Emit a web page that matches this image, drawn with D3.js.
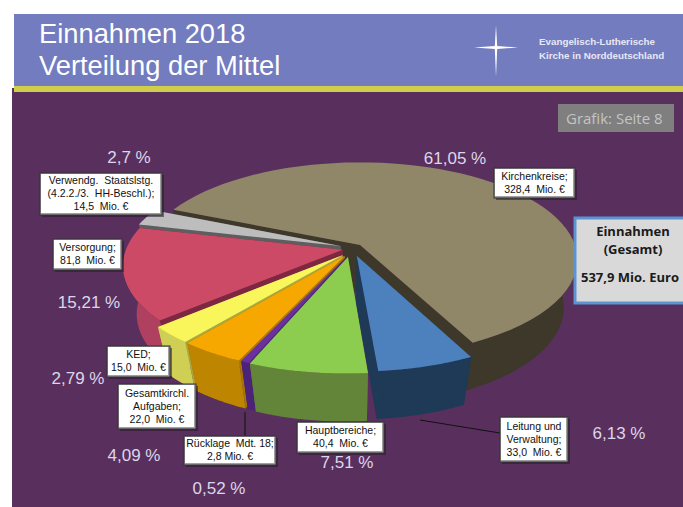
<!DOCTYPE html>
<html>
<head>
<meta charset="utf-8">
<script src="https://cdn.jsdelivr.net/npm/d3@7"></script>
<style>
  html, body { margin: 0; background: #fff; overflow: hidden; }
  svg { display: block; }
  text { font-family: "Liberation Sans", Arial, sans-serif; white-space: pre; }
  text.calibri { font-family: "Open Sans", sans-serif; }
</style>
</head>
<body>
<div id="chart"></div>
<script>
// Einnahmen 2018, Mio. Euro, clockwise starting with Kirchenkreise
const categories = ["Kirchenkreise", "Leitung und Verwaltung", "Hauptbereiche", "Ruecklage", "Gesamtkirchl. Aufgaben", "KED", "Versorgung", "Verwendg. Staatslstg."];
const amounts = [328.4, 33.0, 40.4, 2.8, 22.0, 15.0, 81.8, 14.5];
const percentLabels = ["61,05 %", "6,13 %", "7,51 %", "0,52 %", "4,09 %", "2,79 %", "15,21 %", "2,7 %"];
const boxLabels = [
  ["Kirchenkreise;", "328,4  Mio. €"],
  ["Leitung und", "Verwaltung;", "33,0  Mio. €"],
  ["Hauptbereiche;", "40,4  Mio. €"],
  ["Rücklage  Mdt. 18;", "2,8 Mio. €"],
  ["Gesamtkirchl.", "Aufgaben;", "22,0  Mio. €"],
  ["KED;", "15,0  Mio. €"],
  ["Versorgung;", "81,8  Mio. €"],
  ["Verwendg.  Staatslstg.", "(4.2.2./3.  HH-Beschl.);", "14,5  Mio. €"]
];

// colours and layout, same order as the categories
const topColors = ["#8f8767", "#4d81bd", "#8ccd4f", "#6c2f9e", "#f7a800", "#f9f65c", "#cd4a66", "#bdbdbd"];
const sideColors = ["#3d3829", "#1f3a57", "#62853a", "#4b2378", "#bd8500", "#cfcf55", "#b04060", "#5e5e5e"];
const cutColors = ["#3d3829", "#1f3a57", "#4f6c2b", "#4b2378", "#a87400", "#a9a83e", "#7d2740", "#5e5e5e"];
const percentPos = [[455, 158], [619, 433], [347, 462], [219, 488], [134, 455], [78, 378], [89, 302], [129, 157]];
const boxRects = [[494, 168, 81, 30], [500, 417, 68, 45], [297, 422, 87, 31], [184, 436, 92, 29], [118, 384, 78, 45], [107, 346, 63, 31], [53, 239, 69, 31], [40, 173, 122, 42]];
const explode = [[0, 0], [-0.015, 0.11], [-0.055, 0.125], [-0.06, 0.12], [-0.07, 0.115], [-0.08, 0.105], [-0.08, 0.05], [-0.09, 0.01]];

const width = 683, height = 507;
const svg = d3.select("#chart").append("svg").attr("width", width).attr("height", height);

// header
svg.append("rect").attr("x", 14).attr("y", 14).attr("width", 669).attr("height", 73).attr("fill", "#727cbf");
svg.append("rect").attr("x", 12).attr("y", 88).attr("width", 671).attr("height", 419).attr("fill", "#59305d");
svg.append("rect").attr("x", 14).attr("y", 86).attr("width", 669).attr("height", 6).attr("fill", "#cfcd4a");
svg.append("text").attr("x", 39).attr("y", 43).attr("font-size", 27.3).attr("fill", "#fff").text("Einnahmen 2018");
svg.append("text").attr("x", 39).attr("y", 75).attr("font-size", 27.3).attr("fill", "#fff").text("Verteilung der Mittel");
svg.append("path").attr("d", "M496,25L497.2,46L518,47.5L497.2,49L496,77L494.8,49L474,47.5L494.8,46Z").attr("fill", "#fff");
svg.append("text").attr("x", 539).attr("y", 45).attr("font-size", 9.8).attr("font-weight", "bold").attr("fill", "#e8e8f5").text("Evangelisch-Lutherische");
svg.append("text").attr("x", 539).attr("y", 59).attr("font-size", 9.8).attr("font-weight", "bold").attr("fill", "#e8e8f5").text("Kirche in Norddeutschland");
svg.append("rect").attr("x", 558).attr("y", 104).attr("width", 116).attr("height", 28).attr("fill", "#7f7f7f");
svg.append("text").attr("class", "calibri").attr("x", 566).attr("y", 124).attr("font-size", 15).attr("fill", "#c4c4c4").text("Grafik: Seite 8");

// pie, first slice starts at -66.8 deg
const start = -66.8 * Math.PI / 180;
const pie = d3.pie().sort(null).startAngle(start).endAngle(start + 2 * Math.PI);
const slices = pie(amounts);
const cx = 360, cy = 245, rx = 215, ry = 95, depth = 48, persp = 0.15, shrink = 0.94, midX = 350;

// point of the exploded slice on the table plane, seen with perspective
function project(a, r, off) {
  const X = Math.sin(a) * r + off[0], Y = -Math.cos(a) * r + off[1];
  const f = 1 / (1 - persp * Y);
  return [cx + rx * X * f, cy + ry * Y * f];
}
// same point on the underside, which looks a bit narrower
function down(p) {
  return [midX + (p[0] - midX) * shrink, p[1] + depth];
}
const line = d3.line();
function rimAngles(d) {
  return d3.range(0, 61).map(i => d.startAngle + (d.endAngle - d.startAngle) * i / 60);
}
function topPath(d, i) {
  const rim = rimAngles(d).map(a => project(a, 1, explode[i]));
  return line([project(0, 0, explode[i]), ...rim]) + "Z";
}
function rimWall(d, i) {
  const rim = rimAngles(d).filter(a => Math.cos(a) < 0.3).map(a => project(a, 1, explode[i]));
  if (rim.length < 2) return "";
  return line([...rim, ...rim.slice().reverse().map(down)]) + "Z";
}
function cutWall(i, a) {
  const o = project(0, 0, explode[i]), p = project(a, 1, explode[i]);
  return line([o, p, down(p), down(o)]) + "Z";
}

// back to front
const paintOrder = [0, 7, 6, 5, 4, 3, 2, 1];
const g = svg.append("g");
paintOrder.forEach(i => {
  const d = slices[i];
  g.append("path").attr("d", cutWall(i, d.startAngle)).attr("fill", cutColors[i]);
  g.append("path").attr("d", cutWall(i, d.endAngle)).attr("fill", cutColors[i]);
  g.append("path").attr("d", rimWall(d, i)).attr("fill", sideColors[i]);
  g.append("path").attr("d", topPath(d, i)).attr("fill", topColors[i]);
});

// leader lines
svg.append("line").attr("x1", 420).attr("y1", 420).attr("x2", 500).attr("y2", 433).attr("stroke", "#111");
svg.append("line").attr("x1", 245).attr("y1", 412).attr("x2", 245).attr("y2", 436).attr("stroke", "#111");

// value boxes
boxLabels.forEach((lines, i) => {
  const [x, y, w, h] = boxRects[i];
  svg.append("rect").attr("x", x + 2).attr("y", y + 2).attr("width", w).attr("height", h).attr("fill", "#2a1530").attr("opacity", 0.55);
  svg.append("rect").attr("x", x).attr("y", y).attr("width", w).attr("height", h).attr("fill", "#a0a0a0").attr("stroke", "#333");
  svg.append("rect").attr("x", x + 1).attr("y", y + 1).attr("width", w - 3).attr("height", h - 3).attr("fill", "#fff");
  lines.forEach((t, j) => {
    svg.append("text").attr("x", x + w / 2).attr("y", y + h / 2 + (j - (lines.length - 1) / 2) * 13 + 3)
      .attr("text-anchor", "middle").attr("font-size", 10.5).attr("fill", "#111").text(t);
  });
});

// percent labels
percentLabels.forEach((t, i) => {
  svg.append("text").attr("x", percentPos[i][0]).attr("y", percentPos[i][1] + 6)
    .attr("text-anchor", "middle").attr("font-size", 17).attr("fill", "#dcd6ea").text(t);
});

// total box
svg.append("rect").attr("x", 575).attr("y", 218).attr("width", 120).attr("height", 85).attr("fill", "#d9d9d9").attr("stroke", "#5b93d3").attr("stroke-width", 3);
[["Einnahmen", 633, 236, "middle", 13], ["(Gesamt)", 633, 254, "middle", 13], ["537,9 Mio. Euro", 581, 282, "start", 13]].forEach(([t, x, y, anchor, size]) => {
  svg.append("text").attr("class", "calibri").attr("x", x).attr("y", y).attr("text-anchor", anchor).attr("font-size", size).attr("font-weight", "bold").attr("fill", "#1a1a1a").text(t);
});
</script>
</body>
</html>
